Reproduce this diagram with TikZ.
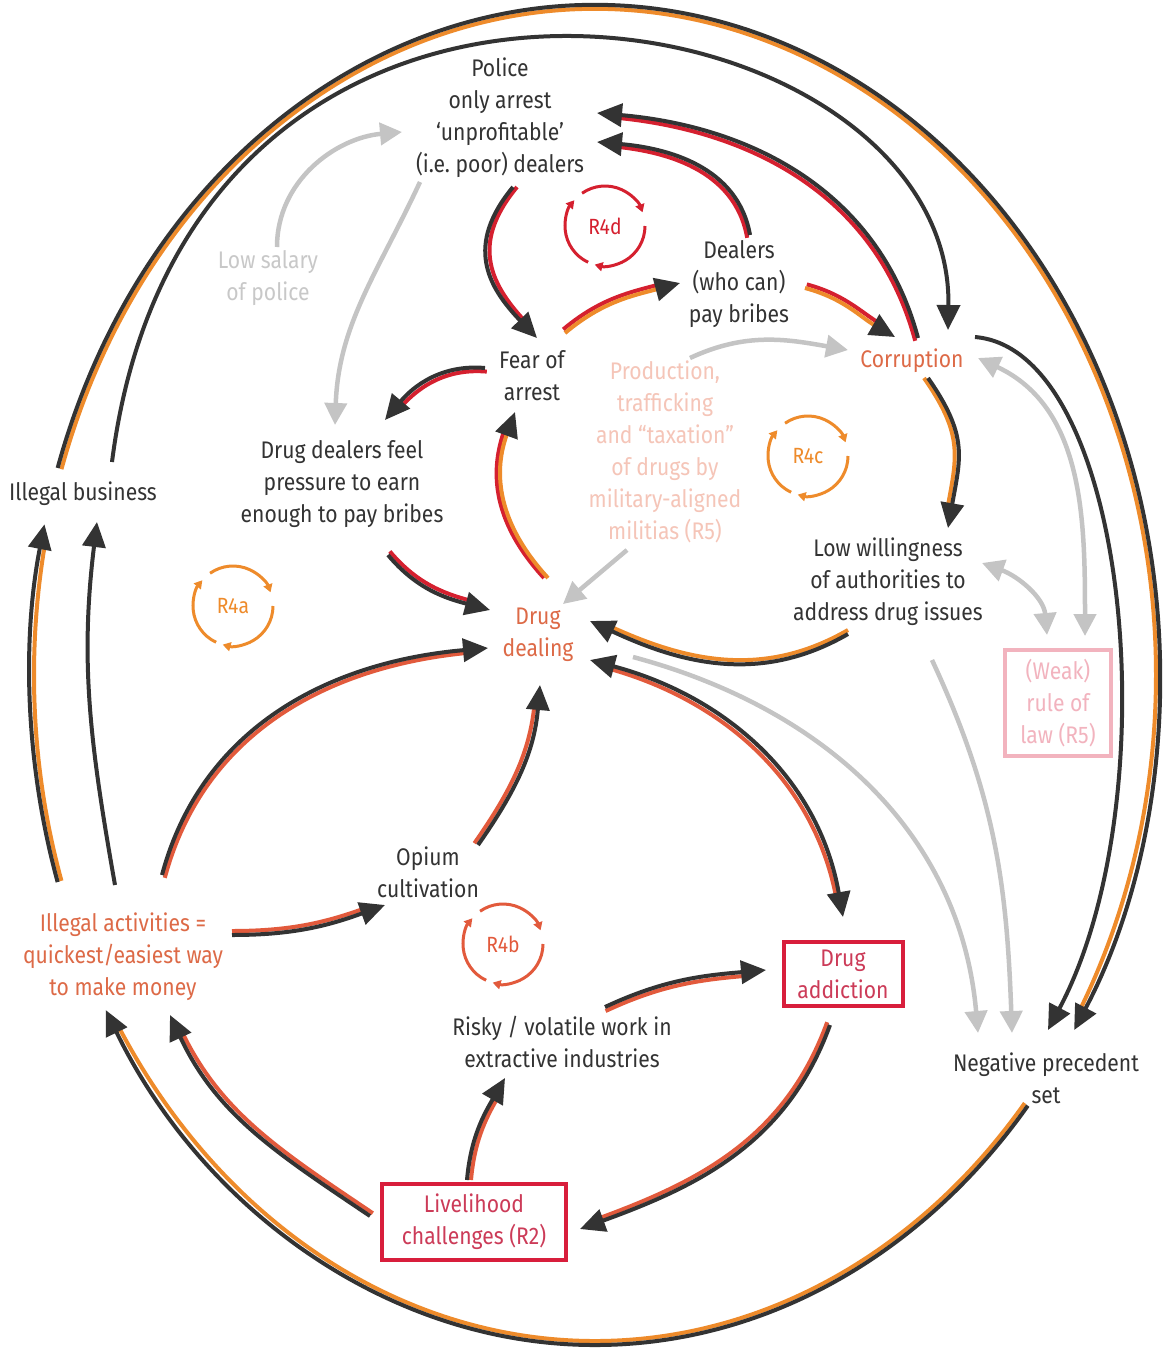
\documentclass[tikz,border=0pt]{standalone}
\usepackage{fontspec}
\setmainfont{Fira Sans}[FakeStretch=0.88]
\usepackage{tikz}
\usetikzlibrary{arrows.meta}
\definecolor{IInk}{HTML}{333333}
\definecolor{IOrange}{HTML}{EE8B2B}
\definecolor{IRed}{HTML}{D5202F}
\definecolor{ITomato}{HTML}{E25A3C}
\definecolor{IGrey}{HTML}{C4C4C4}
\definecolor{ISilver}{HTML}{C8C8C8}
\definecolor{IRust}{HTML}{DD6A47}
\definecolor{ICrimson}{HTML}{CC3B58}
\definecolor{IBox}{HTML}{D81E3C}
\definecolor{IPink}{HTML}{F2B3BE}
\definecolor{IBlush}{HTML}{F5C5B8}

% two-tone link: main colour, band colour, band offset, tail, path to head
\newcommand{\twotone}[5]{%
  \draw[bandline={#2}{#3}] #4 #5;
  \draw[mainline=#1] #4 #5;
}

\begin{document}
\begin{tikzpicture}[x=1pt, y=1pt,
  lbl/.style={align=center, text=IInk, font=\fontsize{24}{32}\selectfont, inner sep=2pt},
  boxed/.style={lbl, text=ICrimson, draw=IBox, line width=4pt},
  mainline/.style={draw=#1, line width=4pt, -{Triangle[length=25pt,width=23pt,color=IInk]}},
  bandline/.style 2 args={draw=#1, line width=4pt, shorten >=18pt, transform canvas={shift={#2}}},
  solo/.style={draw=IInk, line width=4pt, -{Triangle[length=25pt,width=23pt]}},
  greyline/.style={draw=IGrey, line width=4.5pt, -{Triangle[length=22pt,width=22pt]}},
  greyboth/.style={greyline, {Triangle[length=22pt,width=22pt]}-{Triangle[length=22pt,width=22pt]}},
  loopline/.style={line width=3pt, -{Triangle[length=8pt,width=9pt]}},
  looplbl/.style={font=\fontsize{22}{26}\selectfont}]
\useasboundingbox (0,0) rectangle (1165,-1350);
\fill[white] (0,0) rectangle (1165,-1350);

% factors
\node[lbl] (police) at (500,-118) {Police\\only arrest\\‘unprofitable’\\(i.e.\ poor) dealers};
\node[lbl, text=ISilver] (salary) at (268,-278) {Low salary\\of police};
\node[lbl] (dealers) at (739,-284) {Dealers\\(who can)\\pay bribes};
\node[lbl] (fear) at (532,-376) {Fear of\\arrest};
\node[lbl, text=IRust] (corr) at (912,-361) {Corruption};
\node[lbl, text=IBlush] (prod) at (665,-452) {Production,\\trafficking\\and “taxation”\\of drugs by\\military-aligned\\militias (R5)};
\node[lbl] (pressure) at (342,-484) {Drug dealers feel\\pressure to earn\\enough to pay bribes};
\node[lbl] (illbus) at (83,-494) {Illegal business};
\node[lbl, text=IRust] (dealing) at (538,-635) {Drug\\dealing};
\node[lbl] (lowwill) at (888,-582) {Low willingness\\of authorities to\\address drug issues};
\node[lbl, text=IPink, draw=IPink, line width=4pt, minimum width=106pt, minimum height=106pt] (rule) at (1058,-703) {(Weak)\\rule of\\law (R5)};
\node[lbl] (opium) at (428,-872) {Opium\\cultivation};
\node[lbl, text=IRust] (illact) at (123,-957) {Illegal activities =\\quickest/easiest way\\to make money};
\node[boxed, minimum width=119pt, minimum height=64pt] (addict) at (843,-974) {Drug\\addiction};
\node[lbl] (risky) at (562,-1042) {Risky / volatile work in\\extractive industries};
\node[lbl] (neg) at (1046,-1078) {Negative precedent\\set};
\node[boxed, minimum width=184pt, minimum height=76pt] (liveli) at (474,-1222) {Livelihood\\challenges (R2)};

% loop markers
\foreach \nm/\cx/\cy/\col in {R4d/605/226/IRed, R4c/808/456/IOrange, R4a/233/606/IOrange, R4b/503/944/ITomato}{
  \node[looplbl, text=\col] (\nm) at (\cx,-\cy) {\nm};
  \foreach \a in {125,0,-115}
    \draw[loopline, draw=\col] (\nm.center) ++(\a:40) arc[start angle=\a, end angle=\a-105, radius=40];
}

% outer ring
\coordinate (ring) at (595,-675);
\draw[draw=IOrange, line width=4pt] ([shift={(162:561 and 666)}]ring) arc[start angle=162, end angle=-30, x radius=561, y radius=666];
\draw[solo] ([shift={(162:565 and 670)}]ring) arc[start angle=162, end angle=-32, x radius=565, y radius=670];
\draw[draw=IOrange, line width=4pt] ([shift={(-40:561 and 666)}]ring) arc[start angle=-40, end angle=-148, x radius=561, y radius=666];
\draw[solo] ([shift={(-40:565 and 670)}]ring) arc[start angle=-40, end angle=-150, x radius=565, y radius=670];
\draw[draw=IOrange, line width=4pt] ([shift={(198:561 and 666)}]ring) arc[start angle=198, end angle=169, x radius=561, y radius=666];
\draw[solo] ([shift={(198:565 and 670)}]ring) arc[start angle=198, end angle=167, x radius=565, y radius=670];

% dark links
\draw[solo] ([shift={(29,32)}]illbus.center) .. controls +(78,612) and +(6,340) .. ([shift={(36,31)}]corr.center);
\draw[solo] ([shift={(63,24)}]corr.center) .. controls +(155,-13) and +(122,230) .. ([shift={(2,48)}]neg.center);
\draw[solo] ([shift={(-8,72)}]illact.center) to[out=100,in=-97] ([shift={(14,-28)}]illbus.center);

% two-tone links
\twotone{IInk}{IRed}{(4,0)}{([shift={(13,-69)}]police.center)}{.. controls +(-48,-58) and +(-50,52) .. ([shift={(5,38)}]fear.center)}
\twotone{IInk}{IRed}{(-2.8,-2.8)}{([shift={(6,23)}]corr.center)}{to[out=105,in=-5] ([shift={(97,5)}]police.center)}
\twotone{IInk}{IRed}{(-2.8,-2.8)}{([shift={(11,49)}]dealers.center)}{to[out=100,in=-5] ([shift={(97,-24)}]police.center)}
\twotone{IOrange}{IRed}{(-1.8,3.6)}{([shift={(33,43)}]fear.center)}{to[out=40,in=195] ([shift={(-59,1)}]dealers.center)}
\twotone{IOrange}{IRed}{(1.8,3.6)}{([shift={(66,-4)}]dealers.center)}{to[out=-15,in=150] ([shift={(-17,24)}]corr.center)}
\twotone{IInk}{IOrange}{(-4,0)}{([shift={(16,-17)}]corr.center)}{to[out=-55,in=80,looseness=1.2] ([shift={(60,54)}]lowwill.center)}
\twotone{IInk}{IOrange}{(0,4)}{([shift={(-40,-52)}]lowwill.center)}{to[out=-150,in=-25] ([shift={(52,14)}]dealing.center)}
\twotone{IOrange}{IRed}{(-4,0)}{([shift={(10,57)}]dealing.center)}{.. controls +(-55,60) and +(-20,-55) .. ([shift={(-17,-36)}]fear.center)}
\twotone{IInk}{IRed}{(1.8,-3.6)}{([shift={(-47,8)}]fear.center)}{to[out=175,in=50] ([shift={(43,64)}]pressure.center)}
\twotone{IInk}{IRed}{(1.8,3.6)}{([shift={(46,-71)}]pressure.center)}{to[out=-50,in=165] ([shift={(-48,25)}]dealing.center)}
\twotone{IInk}{ITomato}{(2.8,-2.8)}{([shift={(39,82)}]illact.center)}{to[out=75,in=185] ([shift={(-50,-13)}]dealing.center)}
\twotone{IInk}{ITomato}{(-3.6,1.8)}{([shift={(50,27)}]opium.center)}{to[out=55,in=-95] ([shift={(2,-50)}]dealing.center)}
\twotone{IInk}{ITomato}{(0,4)}{([shift={(109,22)}]illact.center)}{to[out=0,in=200] ([shift={(-43,-33)}]opium.center)}
\twotone{IInk}{ITomato}{(-2.8,2.8)}{([shift={(-13,-51)}]addict.center)}{to[out=-110,in=20] ([shift={(106,-7)}]liveli.center)}
\twotone{IInk}{ITomato}{(4,0)}{([shift={(-7,42)}]liveli.center)}{to[out=85,in=-120] ([shift={(-57,-36)}]risky.center)}
\twotone{IInk}{ITomato}{(0.6,-4)}{([shift={(43,35)}]risky.center)}{to[out=25,in=185] ([shift={(-77,4)}]addict.center)}
\twotone{IInk}{ITomato}{(2.8,2.8)}{([shift={(-104,6)}]liveli.center)}{to[out=146,in=-65] ([shift={(47,-58)}]illact.center)}
% dealing <-> addiction
\draw[bandline={ITomato}{(-2.8,-2.8)}, shorten <=18pt] ([shift={(52,-25)}]dealing.center) to[out=-15,in=100] ([shift={(0,57)}]addict.center);
\draw[mainline=IInk, {Triangle[length=25pt,width=23pt]}-{Triangle[length=25pt,width=23pt]}] ([shift={(52,-25)}]dealing.center) to[out=-15,in=100] ([shift={(0,57)}]addict.center);

% grey links
\draw[greyline] ([shift={(9,31)}]salary.center) to[out=90,in=185] ([shift={(-98,-14)}]police.center);
\draw[greyline] ([shift={(-80,-64)}]police.center) to[out=-115,in=88] ([shift={(-7,59)}]pressure.center);
\draw[greyline] ([shift={(25,94)}]prod.center) to[out=25,in=170] ([shift={(-64,11)}]corr.center);
\draw[greyline] ([shift={(-38,-98)}]prod.center) -- ([shift={(25,31)}]dealing.center);
\draw[greyboth] ([shift={(94,19)}]lowwill.center) to[out=-20,in=95] ([shift={(-11,68)}]rule.center);
\draw[greyboth] ([shift={(66,3)}]corr.center) to[out=-25,in=90] ([shift={(27,67)}]rule.center);
\draw[greyline] ([shift={(95,-22)}]dealing.center) to[out=-15,in=95] ([shift={(-68,45)}]neg.center);
\draw[greyline] ([shift={(44,-78)}]lowwill.center) to[out=-65,in=92] ([shift={(-34,45)}]neg.center);
\end{tikzpicture}
\end{document}
